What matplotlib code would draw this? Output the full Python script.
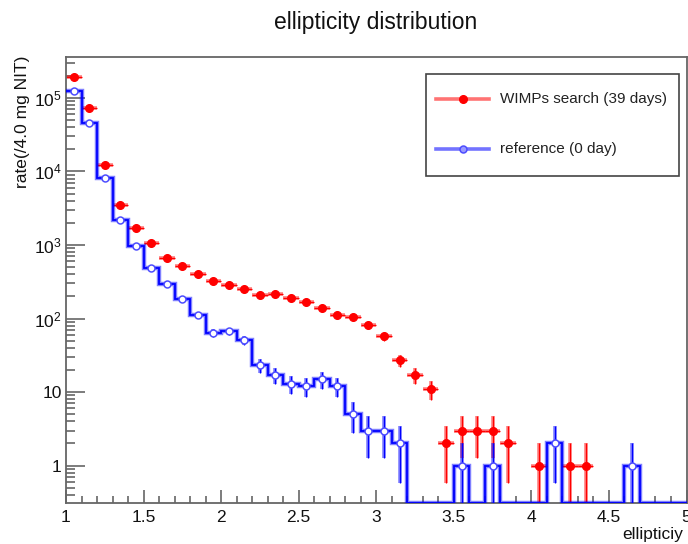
import numpy as np
import matplotlib
matplotlib.use("Agg")
import matplotlib.pyplot as plt
from matplotlib.patches import Rectangle
from matplotlib.ticker import LogLocator, NullFormatter

plt.rcParams['font.family'] = ['Liberation Sans', 'DejaVu Sans']
plt.rcParams['mathtext.fontset'] = 'custom'
plt.rcParams['mathtext.rm'] = 'Liberation Sans'
plt.rcParams['mathtext.default'] = 'regular'

# ---- data ----
x_min, x_max, n_bins = 1.0, 5.0, 40
bin_edges = np.linspace(x_min, x_max, n_bins + 1)

wimp_rate = [1.95e5, 7.3e4, 1.22e4, 3450, 1700, 1050, 660, 510, 405, 325,
             285, 250, 208, 215, 190, 168, 140, 111, 105, 81,
             57, 27, 17, 11, 2, 3, 3, 3, 2, 0,
             1, 0, 1, 1, 0, 0, 0, 0, 0, 0]
ref_rate = [1.25e5, 4.6e4, 8200, 2200, 980, 490, 298, 186, 112, 64,
            67, 51, 23, 17, 13, 12, 15, 12, 5, 3,
            3, 2, 0, 0, 0, 1, 0, 1, 0, 0,
            0, 2, 0, 0, 0, 0, 1, 0, 0, 0]

y_ticks = [1, 10, 1e2, 1e3, 1e4, 1e5]
y_ticklabels = ['1', '10', '$10^{2}$', '$10^{3}$', '$10^{4}$', '$10^{5}$']
x_ticks = [1, 1.5, 2, 2.5, 3, 3.5, 4, 4.5, 5]
x_ticklabels = ['1', '1.5', '2', '2.5', '3', '3.5', '4', '4.5', '5']

title = 'ellipticity distribution'
xlabel = 'ellipticiy'
ylabel = 'rate(/4.0 mg NIT)'
label_wimp = 'WIMPs search (39 days)'
label_ref = 'reference (0 day)'

y_lo, y_hi = 0.31, 3.6e5

# ---- figure ----
W, H = 688, 544
fig = plt.figure(figsize=(W / 100, H / 100), dpi=100)
ax = fig.add_axes([66 / W, 1 - 503 / H, 620.5 / W, 446 / H])
ax.set_yscale('log')
ax.set_xlim(x_min, x_max)
ax.set_ylim(y_lo, y_hi)

centers = 0.5 * (bin_edges[:-1] + bin_edges[1:])
half_w = 0.5 * (bin_edges[1] - bin_edges[0])
wimp = np.array(wimp_rate, dtype=float)
ref = np.array(ref_rate, dtype=float)

red = '#ff0000'
blue = '#0000ff'

# WIMPs search: points with error bars
m = wimp > 0
err = np.sqrt(wimp[m])
lo = wimp[m] - np.maximum(wimp[m] - err, 1e-4)
ax.errorbar(centers[m], wimp[m], xerr=half_w, yerr=[lo, err], fmt='none',
            ecolor=(1, 0, 0, 0.5), elinewidth=2.6, capsize=0, zorder=2)
ax.errorbar(centers[m], wimp[m], xerr=half_w, yerr=[lo, err], fmt='none',
            ecolor=red, elinewidth=0.9, capsize=0, zorder=2)
ax.plot(centers[m], wimp[m], 'o', color=red, ms=5.5, zorder=4)

# reference: histogram + error bars
ref_draw = np.where(ref > 0, ref, y_lo)
ax.stairs(ref_draw, bin_edges, baseline=None, color=(0, 0, 1, 0.5), lw=3.2, zorder=3)
ax.stairs(ref_draw, bin_edges, baseline=None, color=blue, lw=1.3, zorder=3)
mr = ref > 0
err_r = np.sqrt(ref[mr])
lo_r = ref[mr] - np.maximum(ref[mr] - err_r, 1e-4)
ax.errorbar(centers[mr], ref[mr], yerr=[lo_r, err_r], fmt='none',
            ecolor=(0, 0, 1, 0.5), elinewidth=2.6, capsize=0, zorder=3)
ax.errorbar(centers[mr], ref[mr], yerr=[lo_r, err_r], fmt='none',
            ecolor=blue, elinewidth=0.9, capsize=0, zorder=3)
ax.plot(centers[mr], ref[mr], 'o', mfc='white', mec=(0.3, 0.3, 1.0), mew=1.1,
        ms=5, zorder=4)

# axes styling
for s in ax.spines.values():
    s.set_color('#666666')
    s.set_linewidth(1.3)
ax.set_xticks(x_ticks)
ax.set_xticklabels(x_ticklabels)
ax.set_xticks(np.linspace(x_min, x_max, 41), minor=True)
ax.set_yticks(y_ticks)
ax.set_yticklabels(y_ticklabels)
ax.yaxis.set_minor_locator(LogLocator(base=10, subs=np.arange(2, 10), numticks=20))
ax.yaxis.set_minor_formatter(NullFormatter())
ax.tick_params(axis='x', which='major', direction='in', length=9.6, width=1.2,
               color='#666666', labelsize=12.5, pad=5, top=False)
ax.tick_params(axis='x', which='minor', direction='in', length=4.8, width=1.2,
               color='#666666', top=False)
ax.tick_params(axis='y', which='major', direction='in', length=13.5, width=1.2,
               color='#666666', labelsize=12.5, pad=3, right=False)
ax.tick_params(axis='y', which='minor', direction='in', length=6.8, width=1.2,
               color='#666666', right=False)
for lab in ax.get_xticklabels() + ax.get_yticklabels():
    lab.set_color('#111111')

# texts
fig.text(376 / W, 1 - 29 / H, title, ha='center', va='baseline', fontsize=16.5,
         color='#111111')
fig.text(683 / W, 1 - 534 / H, xlabel, ha='right', va='center', fontsize=12.5,
         color='#111111')
fig.text(23 / W, 1 - 56 / H, ylabel, ha='center', va='top', rotation=90,
         fontsize=12.5, color='#111111')

# legend (drawn as a box in axes coordinates)
def px2ax(px, py):
    return ((px - 66) / 620.5, (503 - py) / 446)

x0, y0 = px2ax(426, 176)
x1, y1 = px2ax(679, 74)
ax.add_patch(Rectangle((x0, y0), x1 - x0, y1 - y0, transform=ax.transAxes,
                       fill=True, facecolor='white', edgecolor='#444444',
                       lw=1.2, zorder=10, clip_on=False))
for (row_y, col, lab, filled) in [(99, red, label_wimp, True),
                                  (149, blue, label_ref, False)]:
    lx0, ly = px2ax(436, row_y)
    lx1, _ = px2ax(489, row_y)
    mx, _ = px2ax(463, row_y)
    ax.plot([lx0, lx1], [ly, ly], transform=ax.transAxes, color=col, alpha=0.55,
            lw=2.6, zorder=11, clip_on=False)
    if filled:
        ax.plot([mx], [ly], 'o', transform=ax.transAxes, color=col, ms=5.5,
                zorder=12, clip_on=False)
    else:
        ax.plot([mx], [ly], 'o', transform=ax.transAxes, mfc=(0.6, 0.6, 1.0),
                mec=(0.3, 0.3, 1.0), mew=1.1, ms=5, zorder=12, clip_on=False)
    tx, _ = px2ax(500, row_y)
    ax.text(tx, ly, lab, transform=ax.transAxes, ha='left', va='center',
            fontsize=11, color='#222222', zorder=12)

fig.savefig('out.png', dpi=100)
